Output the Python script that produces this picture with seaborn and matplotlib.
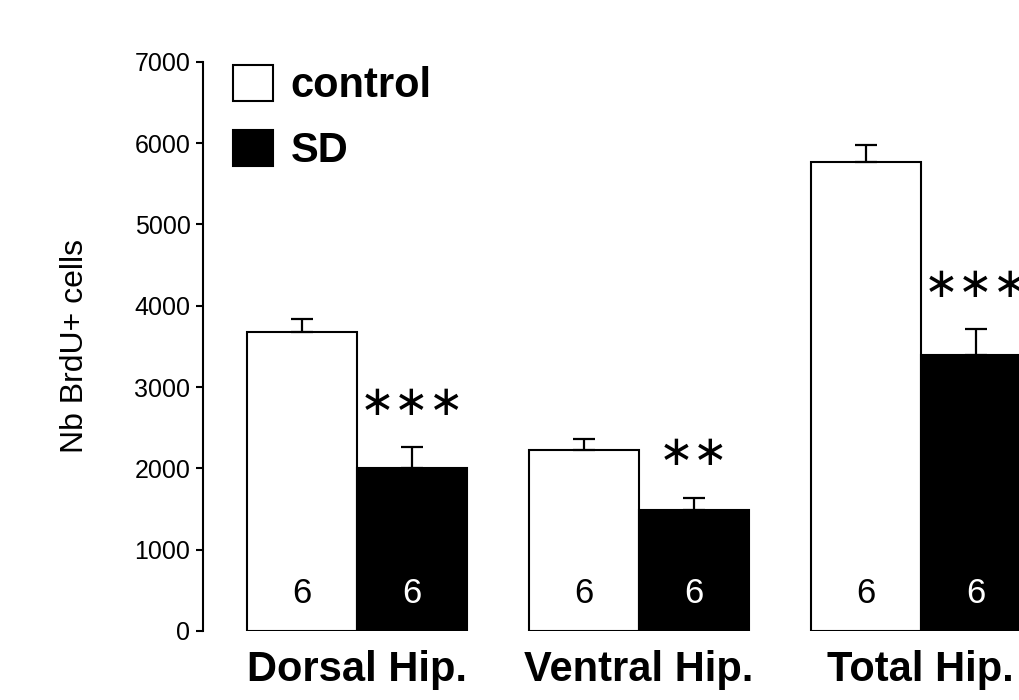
import pandas as pd
import matplotlib.pyplot as plt
import seaborn as sns
from matplotlib.patches import Patch

# values
regions = ['Dorsal Hip.', 'Ventral Hip.', 'Total Hip.']
groups = ['control', 'SD']
control_mean = [3680, 2230, 5770]
sd_mean = [2010, 1490, 3400]
control_sem = [160, 135, 210]
sd_sem = [250, 150, 310]
n_animals = [6, 6, 6]
stars = ['∗∗∗', '∗∗', '∗∗∗']

data = pd.DataFrame({
    'region': regions * 2,
    'group': ['control'] * 3 + ['SD'] * 3,
    'cells': control_mean + sd_mean,
    'sem': control_sem + sd_sem,
})

sns.set_style('ticks', rc={'axes.edgecolor': 'black', 'text.color': 'black',
                           'axes.labelcolor': 'black', 'xtick.color': 'black',
                           'ytick.color': 'black'})
plt.rcParams['font.family'] = ['Liberation Sans', 'DejaVu Sans']

fig = plt.figure(figsize=(10.2, 7), dpi=100)
ax = fig.add_axes([0.199, 0.0986, 0.842, 0.813])

sns.barplot(data=data, x='region', y='cells', hue='group', order=regions, hue_order=groups,
            palette={'control': 'white', 'SD': 'black'}, edgecolor='black', linewidth=1.5,
            width=0.78, gap=0, errorbar=None, legend=False, ax=ax)

# error bars (upper half only), n labels and significance stars
bar_groups = list(ax.containers)
for gi, cont in enumerate(bar_groups):
    sems = control_sem if gi == 0 else sd_sem
    for i, bar in enumerate(cont):
        xc = bar.get_x() + bar.get_width() / 2
        h = bar.get_height()
        ax.errorbar(xc, h, yerr=[[0], [sems[i]]], fmt='none', ecolor='black',
                    elinewidth=1.6, capsize=8, capthick=1.6, zorder=1)
        ax.annotate(str(n_animals[i]), (xc, 0), xytext=(0, 27), textcoords='offset points',
                    ha='center', va='center', fontsize=25,
                    color='white' if gi == 1 else 'black')
        if gi == 1:
            ax.annotate(stars[i], (xc, h + sems[i]), xytext=(0, 32), textcoords='offset points',
                        ha='center', va='center', fontsize=30, family='DejaVu Sans')

ax.set_xlim(-0.546, 2.5)
ax.set_ylim(0, 7000)
ax.set_yticks(range(0, 7001, 1000))
ax.tick_params(axis='y', labelsize=18, length=5, width=1.5, pad=4)
ax.tick_params(axis='x', length=0, pad=14)
for lbl in ax.get_xticklabels():
    lbl.set_fontsize(30)
    lbl.set_fontweight('bold')
ax.set_xlabel('')
ax.set_ylabel('Nb BrdU+ cells', fontsize=23)
ax.yaxis.set_label_coords(-0.131, 0.5)
sns.despine(ax=ax, bottom=True)
ax.spines['left'].set_linewidth(1.5)

handles = [Patch(facecolor='white', edgecolor='black', linewidth=1.5),
           Patch(facecolor='black', edgecolor='black', linewidth=1.5)]
ax.legend(handles, groups, loc='upper left', bbox_to_anchor=(0.208, 0.937),
          bbox_transform=fig.transFigure, frameon=False, borderpad=0,
          prop={'size': 30, 'weight': 'bold'}, handlelength=0.95, handleheight=0.95,
          handletextpad=0.43, labelspacing=0.57)

fig.savefig('out.png', dpi=100)
